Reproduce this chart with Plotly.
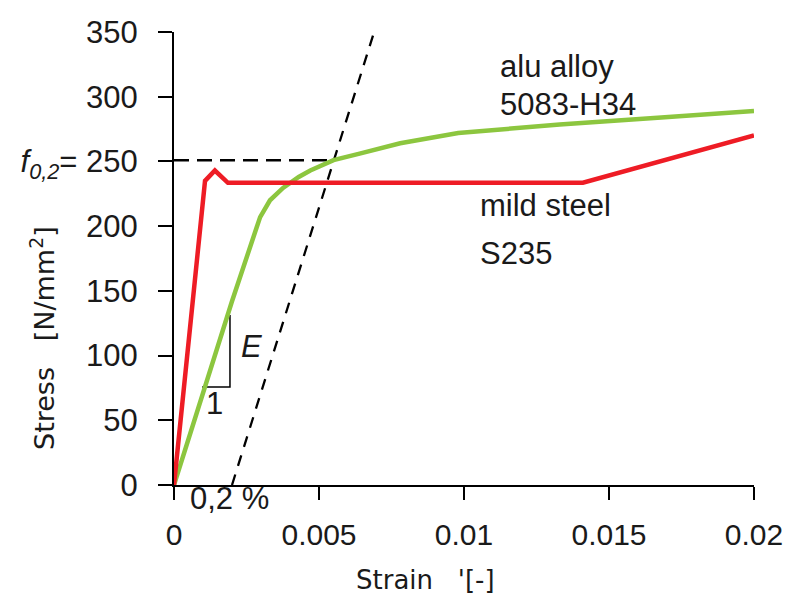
import plotly.graph_objects as go

# ---- data ----
steel_strain = [0, 0.00107, 0.00141, 0.00186, 0.0141, 0.02]
steel_stress = [0, 235, 243, 233.5, 233.5, 270]

alu_strain = [0, 0.001, 0.002, 0.00297, 0.00331, 0.00376, 0.0043, 0.0047, 0.0055,
              0.0064, 0.0078, 0.0098, 0.0115, 0.0133, 0.0168, 0.02]
alu_stress = [0, 70, 142, 207, 220, 229.5, 238, 243, 251,
              256, 264, 272, 275.5, 278.5, 284, 289]

offset_strain = [0.002, 0.0069]
offset_stress = [0, 350]

f02_strain = [0, 0.0055]
f02_stress = [251, 251]

tri_strain = [0.00097, 0.00193, 0.00193]
tri_stress = [75.7, 75.7, 131.4]

x_tickvals = [0, 0.005, 0.01, 0.015, 0.02]
x_ticktext = ["0", "0.005", "0.01", "0.015", "0.02"]
y_tickvals = [0, 50, 100, 150, 200, 250, 300, 350]
y_ticktext = ["0", "50", "100", "150", "200",
              "<i>f</i><sub><i>0,2</i></sub>= 250", "300", "350"]

TXT = "#1a1a1a"
FONT = "Liberation Sans, Arial, sans-serif"

fig = go.Figure()
fig.add_trace(go.Scatter(x=f02_strain, y=f02_stress, mode="lines",
                         line=dict(color="black", width=2.5, dash="15px,8px"),
                         hoverinfo="skip", showlegend=False))
fig.add_trace(go.Scatter(x=offset_strain, y=offset_stress, mode="lines",
                         line=dict(color="black", width=2.3, dash="11px,9px"),
                         hoverinfo="skip", showlegend=False))
fig.add_trace(go.Scatter(x=tri_strain, y=tri_stress, mode="lines",
                         line=dict(color="black", width=1.5),
                         hoverinfo="skip", showlegend=False))
fig.add_trace(go.Scatter(x=alu_strain, y=alu_stress, mode="lines", name="alu alloy 5083-H34",
                         line=dict(color="#8cc63f", width=4.5), showlegend=False))
fig.add_trace(go.Scatter(x=steel_strain, y=steel_stress, mode="lines", name="mild steel S235",
                         line=dict(color="#ee1c25", width=4.5), showlegend=False))

def ann(x, y, text, size=31, xanchor="left", **kw):
    fig.add_annotation(x=x, y=y, text=text, showarrow=False, xanchor=xanchor,
                       yanchor="middle", font=dict(family=FONT, size=size, color=TXT), **kw)

ann(0.01117, 323, "alu alloy")
ann(0.01117, 293.7, "5083-H34")
ann(0.01048, 215.6, "mild steel")
ann(0.01048, 178.5, "S235")
ann(0.00266, 107, "<i>E</i>", xanchor="center")
ann(0.00141, 63, "1", xanchor="center")
fig.add_annotation(xref="x", yref="paper", x=0.00193, y=-0.0287, text="0,2 %",
                   showarrow=False, xanchor="center", yanchor="middle",
                   font=dict(family=FONT, size=31, color=TXT))

fig.add_annotation(xref="paper", yref="paper", x=-0.2276, y=0.3245,
                   text="Stress   [N/mm<sup>2</sup>]", textangle=-90, showarrow=False,
                   xanchor="center", yanchor="middle",
                   font=dict(family="DejaVu Sans, Verdana, sans-serif", size=27, color=TXT))
fig.add_annotation(xref="paper", yref="paper", x=0.4328, y=-0.2097,
                   text="Strain   '[-]", showarrow=False,
                   xanchor="center", yanchor="middle",
                   font=dict(family="DejaVu Sans, Verdana, sans-serif", size=26, color=TXT))

fig.update_layout(
    width=786, height=595,
    margin=dict(l=174, r=32, t=32, b=110, autoexpand=False),
    paper_bgcolor="white", plot_bgcolor="white",
    font=dict(family=FONT, size=31, color=TXT),
    xaxis=dict(range=[0, 0.02], tickvals=x_tickvals, ticktext=x_ticktext, automargin=False,
               showgrid=False, zeroline=False, showline=True, linecolor="black", linewidth=2,
               ticks="outside", ticklen=13, tickwidth=2, tickcolor="black",
               ticklabelstandoff=9,
               tickfont=dict(family=FONT, size=30, color=TXT)),
    yaxis=dict(range=[0, 350], tickvals=y_tickvals, ticktext=y_ticktext, automargin=False,
               showgrid=False, zeroline=False, showline=True, linecolor="black", linewidth=2,
               ticks="outside", ticklen=14, tickwidth=2, tickcolor="black",
               ticklabelstandoff=14,
               tickfont=dict(family=FONT, size=31, color=TXT)),
)

fig.write_html("out.html", config={"displayModeBar": False},
               post_script="document.body.style.margin='0';document.body.style.overflow='hidden';")
